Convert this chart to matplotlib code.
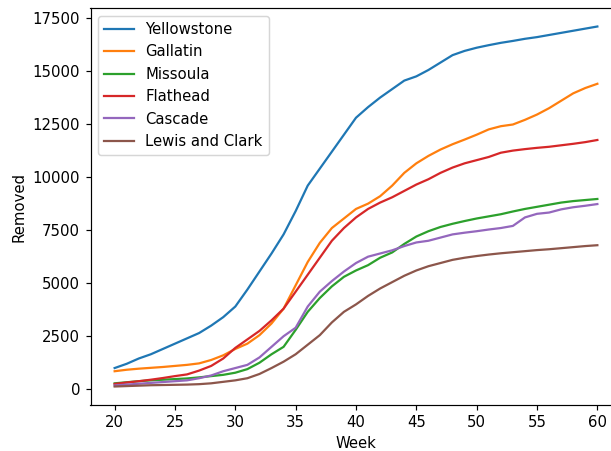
import matplotlib
matplotlib.use("Agg")
import matplotlib.pyplot as plt

# weekly cumulative counts per county
weeks = list(range(20, 61))

yellowstone = [1000, 1200, 1450, 1650, 1900, 2150, 2400, 2650, 3000, 3400,
               3900, 4700, 5550, 6400, 7300, 8400, 9600, 10400, 11200, 12000,
               12800, 13300, 13750, 14150, 14550, 14750, 15050, 15400, 15750, 15950,
               16100, 16220, 16330, 16420, 16520, 16600, 16700, 16800, 16900, 17000,
               17100]
gallatin = [850, 920, 970, 1010, 1050, 1100, 1150, 1220, 1380, 1600,
            1900, 2150, 2550, 3100, 3800, 4900, 6000, 6900, 7600, 8050,
            8500, 8750, 9100, 9600, 10200, 10650, 11000, 11300, 11550, 11770,
            12000, 12250, 12400, 12480, 12700, 12950, 13250, 13600, 13950, 14200,
            14400]
missoula = [280, 330, 380, 420, 450, 480, 510, 560, 620, 680,
            780, 950, 1250, 1650, 2000, 2800, 3650, 4300, 4850, 5300,
            5600, 5850, 6200, 6450, 6850, 7200, 7450, 7650, 7800, 7930,
            8050, 8150, 8250, 8380, 8500, 8600, 8700, 8800, 8870, 8920,
            8970]
flathead = [250, 320, 380, 450, 530, 620, 700, 880, 1100, 1450,
            1950, 2350, 2750, 3250, 3800, 4600, 5400, 6200, 7000, 7600,
            8100, 8500, 8800, 9050, 9350, 9650, 9900, 10200, 10450, 10650,
            10800, 10950, 11150, 11250, 11320, 11380, 11430, 11500, 11570, 11650,
            11750]
cascade = [180, 220, 260, 300, 340, 380, 420, 520, 650, 850,
           1000, 1150, 1500, 2000, 2500, 2900, 3900, 4600, 5100, 5550,
           5950, 6250, 6400, 6550, 6750, 6920, 7000, 7150, 7300, 7380,
           7450, 7530, 7600, 7700, 8100, 8270, 8330, 8480, 8580, 8650,
           8730]
lewis_clark = [130, 150, 170, 190, 200, 210, 220, 240, 280, 350,
               420, 520, 720, 1000, 1300, 1650, 2100, 2550, 3150, 3650,
               4000, 4400, 4750, 5050, 5350, 5600, 5800, 5950, 6100, 6200,
               6280, 6350, 6410, 6460, 6510, 6560, 6600, 6650, 6700, 6750,
               6790]

series = {
    "Yellowstone": yellowstone,
    "Gallatin": gallatin,
    "Missoula": missoula,
    "Flathead": flathead,
    "Cascade": cascade,
    "Lewis and Clark": lewis_clark,
}

# reference looks like it was rendered a bit larger than 100 dpi
dpi = 107
fig = plt.figure(figsize=(611 / dpi, 451 / dpi), dpi=dpi)
# the original is cropped on the right, so the axes run past the figure edge
ax = fig.add_axes([90.5 / 611, 46.5 / 451, 531 / 611, 396 / 451])

for name, values in series.items():
    ax.plot(weeks, values, label=name)

ax.set_xlabel("Week")
ax.set_ylabel("Removed")
ax.legend(loc="upper left")

fig.savefig("out.png", dpi=dpi)
